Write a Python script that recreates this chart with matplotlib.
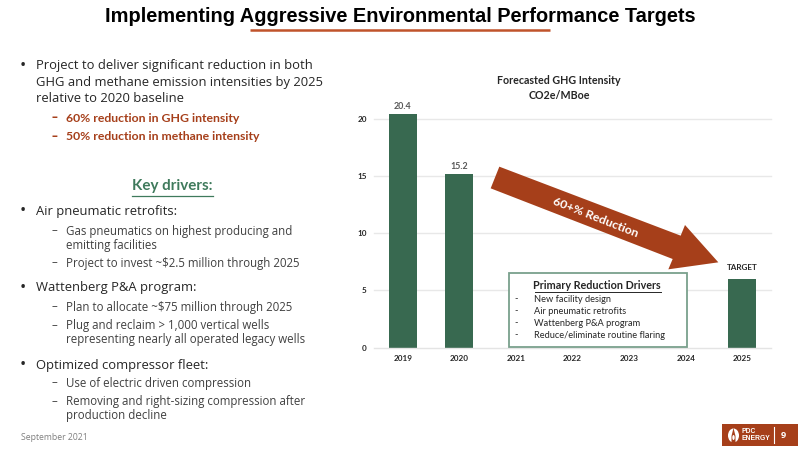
import matplotlib
matplotlib.use("Agg")
import matplotlib.pyplot as plt
from matplotlib.patches import Polygon, Rectangle, Ellipse

years = ["2019", "2020", "2021", "2022", "2023", "2024", "2025"]
ghg = [20.4, 15.2, None, None, None, None, 6.0]
bar_labels = ["20.4", "15.2", "", "", "", "", "TARGET"]
yticks = [0, 5, 10, 15, 20]

GREEN = "#386950"
RUST = "#A63F1A"
W, H = 800, 450

fig = plt.figure(figsize=(8, 4.5), dpi=100, facecolor="white")

# pixel overlay
ov = fig.add_axes([0, 0, 1, 1], zorder=0)
ov.set_xlim(0, W); ov.set_ylim(H, 0); ov.axis("off")

# chart
y0, y20 = 347.7, 118.7
ax = fig.add_axes([374.4 / W, 1 - y0 / H, (770.6 - 374.4) / W, (y0 - y20) * (25 / 20) / H], zorder=1)
ax.patch.set_alpha(0)
ax.set_xlim(-0.5, 6.5); ax.set_ylim(0, 25)
for s in ax.spines.values():
    s.set_visible(False)
ax.spines["bottom"].set_visible(True)
ax.spines["bottom"].set_color("#E4E4E4")
ax.spines["bottom"].set_linewidth(1)
ax.set_yticks(yticks)
ax.set_xticks(range(len(years)))
ax.set_xticklabels(years)
ax.tick_params(length=0)
for lab in ax.get_xticklabels() + ax.get_yticklabels():
    lab.set_fontfamily("Lato"); lab.set_fontweight("bold"); lab.set_fontsize(5.9); lab.set_color("#262626")
ax.tick_params(axis="y", pad=5.5)
ax.tick_params(axis="x", pad=5.5)
for t in yticks[1:]:
    ax.plot([-0.5, 6.5], [t, t], color="#E8E8E8", lw=1, zorder=1, clip_on=False)
for i, v in enumerate(ghg):
    if v is not None:
        ax.bar(i, v, width=0.5, color=GREEN, zorder=2)
        is_target = bar_labels[i] == "TARGET"
        ax.text(i, v + (0.7 if is_target else 0.25), bar_labels[i], ha="center", va="bottom",
                fontsize=5.9 if is_target else 6.4, fontfamily="Lato", fontweight="bold",
                color="#262626" if is_target else "#595959")

fig.text(559 / W, 1 - 81 / H, "Forecasted GHG Intensity", ha="center", va="center",
         fontsize=7.7, fontweight="bold", fontfamily="Lato", color="#262626")
fig.text(559 / W, 1 - 95.5 / H, "CO2e/MBoe", ha="center", va="center",
         fontsize=7.7, fontweight="bold", fontfamily="Lato", color="#262626")

# top overlay
ov2 = fig.add_axes([0, 0, 1, 1], zorder=2)
ov2.set_xlim(0, W); ov2.set_ylim(H, 0); ov2.axis("off"); ov2.patch.set_alpha(0)

arrow_z = [(478, 320), (452, 385), (998, 597), (985, 628), (1135, 607), (1035, 495), (1022, 527)]
ov2.add_patch(Polygon([(340 + x / 3, 60 + y / 3) for x, y in arrow_z], closed=True,
                      fc=RUST, ec="none"))
ov2.text(596, 217, "60+% Reduction", rotation=-21.5, rotation_mode="anchor", ha="center", va="center",
         color="white", fontsize=8.9, fontweight="bold", fontfamily="Lato")

ov2.add_patch(Rectangle((508.5, 272.5), 178, 74, fc="white", ec="#79A08C", lw=1.3))
ov2.text(597, 285.5, "Primary Reduction Drivers", ha="center", va="center",
         fontsize=7.75, fontweight="bold", fontfamily="Lato", color="#262626")
ov2.plot([534.5, 660.5], [291.5, 291.5], color="#262626", lw=0.7)
drivers = ["New facility design", "Air pneumatic retrofits", "Wattenberg P&A program",
           "Reduce/eliminate routine flaring"]
for i, d in enumerate(drivers):
    y = 299 + i * 12
    ov2.text(516, y, "-", ha="center", va="center", fontsize=6.65, fontfamily="Lato", color="#262626")
    ov2.text(533.5, y, d, ha="left", va="center", fontsize=6.65, fontfamily="Lato", color="#262626")

# title
ov.text(400.5, 16.5, "Implementing Aggressive Environmental Performance Targets", ha="center", va="center",
        fontsize=14.4, fontweight="bold", fontfamily="Liberation Sans", color="black")
ov.plot([250, 550], [30, 30], color="#C0532B", lw=1.8, solid_capstyle="butt")

# left column
BODY = 9.4; SUB = 8.3
left = [
    ("•", 66, "Project to deliver significant reduction in both"),
    (None, 82.5, "GHG and methane emission intensities by 2025"),
    (None, 98.5, "relative to 2020 baseline"),
    ("•", 211, "Air pneumatic retrofits:"),
    ("•", 288, "Wattenberg P&A program:"),
    ("•", 365, "Optimized compressor fleet:"),
]
for b, y, s in left:
    if b:
        ov.text(23, y, b, ha="center", va="center", fontsize=12, fontfamily="Open Sans", color="#262626")
    ov.text(35.5, y, s, ha="left", va="center", fontsize=BODY, fontfamily="Open Sans", color="#262626")

for y, s in [(118, "60% reduction in GHG intensity"), (136.5, "50% reduction in methane intensity")]:
    ov.text(52, y, "–", ha="left", va="center", fontsize=SUB, fontfamily="Open Sans", color=RUST, fontweight="bold")
    ov.text(65.5, y, s, ha="left", va="center", fontsize=8.8, fontfamily="Lato", color=RUST, fontweight="bold")

ov.text(172.5, 186, "Key drivers:", ha="center", va="center", fontsize=10.9, fontweight="bold",
        fontfamily="Lato", color="#3F7A5C")
ov.plot([132, 213], [195.5, 195.5], color="#3F7A5C", lw=0.9)

subs = [
    (True, 231, "Gas pneumatics on highest producing and"),
    (False, 245, "emitting facilities"),
    (True, 263, "Project to invest ~$2.5 million through 2025"),
    (True, 307, "Plan to allocate ~$75 million through 2025"),
    (True, 326, "Plug and reclaim > 1,000 vertical wells"),
    (False, 340, "representing nearly all operated legacy wells"),
    (True, 383, "Use of electric driven compression"),
    (True, 402, "Removing and right-sizing compression after"),
    (False, 416, "production decline"),
]
for dash, y, s in subs:
    if dash:
        ov.text(52, y, "–", ha="left", va="center", fontsize=SUB, fontfamily="Open Sans", color="#404040")
    ov.text(65.5, y, s, ha="left", va="center", fontsize=SUB, fontfamily="Open Sans", color="#404040")

ov.text(21, 438, "September 2021", ha="left", va="center", fontsize=6.2, fontfamily="Open Sans", color="#7F7F7F")

# footer logo
ov.add_patch(Rectangle((722, 424), 76, 22, fc=RUST, ec="none"))
ov.add_patch(Ellipse((733.5, 435.5), 11, 14, fc="white", ec="none"))
ov.add_patch(Polygon([(731.5, 436), (733.5, 428), (735.5, 436), (735.5, 443), (731.5, 443)], closed=True, fc=RUST, ec="none"))
ov.add_patch(Ellipse((733.5, 437.5), 2.4, 5, fc="white", ec="none"))
ov.text(742, 431.5, "PDC", ha="left", va="center", fontsize=4.9, fontweight="bold", fontfamily="Liberation Sans", color="white")
ov.text(742, 438.5, "ENERGY", ha="left", va="center", fontsize=4.9, fontweight="bold", fontfamily="Liberation Sans", color="white")
ov.plot([774, 774], [427, 443], color="white", lw=0.8)
ov.text(783, 435, "9", ha="center", va="center", fontsize=6.6, fontweight="bold", fontfamily="Open Sans", color="white")

fig.savefig("out.png", dpi=100)
